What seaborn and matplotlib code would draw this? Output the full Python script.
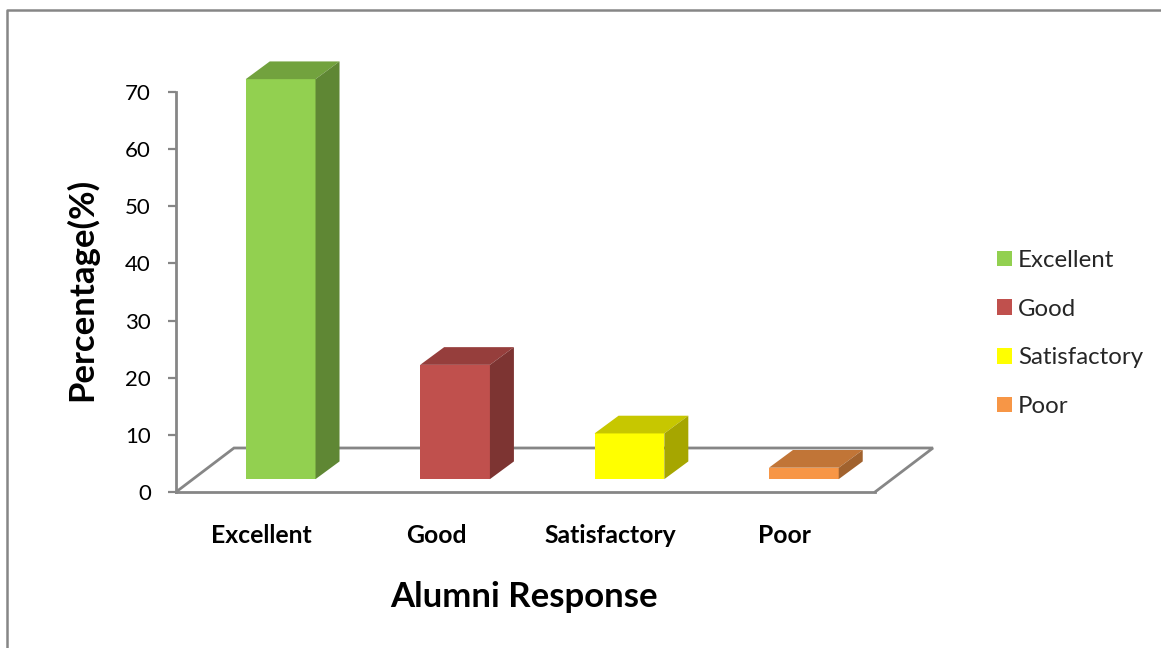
import matplotlib
matplotlib.use("Agg")
import matplotlib.pyplot as plt
import pandas as pd
import seaborn as sns
from matplotlib.lines import Line2D
from matplotlib.patches import Polygon
from matplotlib.colors import to_rgb
from matplotlib.transforms import ScaledTranslation

categories = ["Excellent", "Good", "Satisfactory", "Poor"]
values = [70, 20, 8, 2]
colors = ["#92D050", "#C0504D", "#FFFF00", "#F79646"]
y_ticks = [0, 10, 20, 30, 40, 50, 60, 70]

GRAY = "#868686"
W, H = 1161, 648
sns.set_theme(style="white")
plt.rcParams["font.family"] = ["Lato", "DejaVu Sans"]

fig = plt.figure(figsize=(W / 100, H / 100), dpi=100, facecolor="white")
ax = fig.add_axes([176 / W, 1 - 492 / H, 699 / W, 400 / H])

df = pd.DataFrame({"Response": categories, "Percent": values})
BASE = 2.25    # floating height of bars over the floor
sns.barplot(data=df, x="Response", y="Percent", hue="Response", palette=colors,
            hue_order=categories, order=categories, dodge=False, width=0.4,
            saturation=1, zorder=3, linewidth=0, legend=True, ax=ax)

XLIM = (-0.600, 3.408)
ax.set_xlim(*XLIM)
ax.set_ylim(0, 70)

# 3D depth of each bar
DX, DY = 24 / 174.4, 3.1
for bar, c in zip(ax.containers, colors):
    for p in bar:
        if p.get_height() != p.get_height():
            continue
        p.set_y(BASE)
        p.set_clip_on(False)
        x0, w, y0, h = p.get_x(), p.get_width(), p.get_y(), p.get_height()
        rgb = to_rgb(c)
        top = tuple(v * 0.78 for v in rgb)
        side = tuple(v * 0.65 for v in rgb)
        ax.add_patch(Polygon([(x0, y0 + h), (x0 + DX, y0 + h + DY), (x0 + w + DX, y0 + h + DY), (x0 + w, y0 + h)],
                             closed=True, fc=top, ec="none", zorder=3, clip_on=False))
        ax.add_patch(Polygon([(x0 + w, y0), (x0 + w + DX, y0 + DY), (x0 + w + DX, y0 + h + DY), (x0 + w, y0 + h)],
                             closed=True, fc=side, ec="none", zorder=3, clip_on=False))

ax.set_xlim(*XLIM)
ax.set_ylim(0, 70)

# floor
xl, xr = ax.get_xlim()
FX, FY = 58 / 174.4, 7.7
ax.add_line(Line2D([xl, xl + FX, xr + FX, xr], [0, FY, FY, 0], color=GRAY, lw=2,
                   clip_on=False, zorder=1, solid_joinstyle="miter"))

for s in ("top", "right"):
    ax.spines[s].set_visible(False)
for s in ("left", "bottom"):
    ax.spines[s].set_color(GRAY)
    ax.spines[s].set_linewidth(2)

ax.set_yticks(y_ticks)
ax.tick_params(axis="y", length=6, width=1.6, color=GRAY, labelsize=16, pad=12,
               labelcolor="black", left=True)
ax.set_xticks(range(len(categories)))
ax.set_xticklabels(categories, fontweight="bold", fontsize=17.8, color="black")
ax.tick_params(axis="x", length=0, pad=23)
shift = ScaledTranslation(-19 / 100, 0, fig.dpi_scale_trans)
for lab in ax.get_xticklabels():
    lab.set_transform(lab.get_transform() + shift)

ax.set_xlabel("Alumni Response", fontweight="bold", fontsize=25, color="black")
ax.xaxis.set_label_coords(524.5 / W, 1 - 597 / H, transform=fig.transFigure)
ax.xaxis.label.set_verticalalignment("center")
ax.set_ylabel("Percentage(%)", fontweight="bold", fontsize=25, color="black")
ax.yaxis.set_label_coords(82 / W, 1 - 289.5 / H, transform=fig.transFigure)
ax.yaxis.label.set_verticalalignment("center")

sns.move_legend(ax, "center left", bbox_to_anchor=(997 / W, 1 - 333.5 / H),
                bbox_transform=fig.transFigure, frameon=False, title=None,
                fontsize=17.3, handlelength=0.625, handleheight=0.625,
                handletextpad=0.25, labelspacing=1.15, borderpad=0, borderaxespad=0)

# outer chart frame
fig.add_artist(Line2D([7 / W, 7 / W, 1], [0, 1 - 10 / H, 1 - 10 / H], color=GRAY, lw=1.8))

fig.savefig("out.png", dpi=100)
